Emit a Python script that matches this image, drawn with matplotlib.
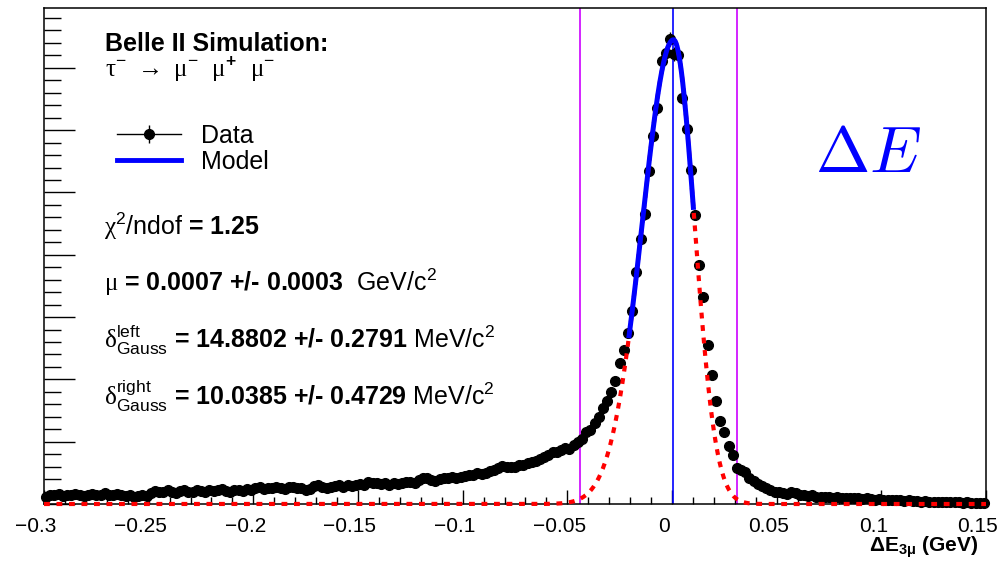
import matplotlib.pyplot as plt
import matplotlib.transforms as mtransforms
import numpy as np
from matplotlib.lines import Line2D
from matplotlib.legend_handler import HandlerTuple
from matplotlib.ticker import MultipleLocator

plt.rcParams['font.family'] = ['Liberation Sans', 'DejaVu Sans']
plt.rcParams['mathtext.fontset'] = 'custom'
plt.rcParams['mathtext.rm'] = 'Liberation Sans'
plt.rcParams['mathtext.it'] = 'Liberation Sans:italic'
plt.rcParams['mathtext.bf'] = 'Liberation Sans:bold'
plt.rcParams['mathtext.sf'] = 'Liberation Serif'

# histogram: 225 bins of 0.002 GeV from -0.3 to 0.15
x_lo, x_hi = -0.3, 0.15
bin_width = 0.002
counts = [
    # -0.299 .. -0.251
    12, 15, 14, 16, 13, 15, 14, 16, 15, 13, 14, 16, 15, 14, 17, 15, 14, 16, 15, 13, 14, 12, 13, 14, 13,
    # -0.249 .. -0.201
    18, 21, 20, 19, 22, 20, 18, 21, 22, 20, 19, 22, 21, 20, 23, 21, 22, 24, 21, 20, 22, 23, 21, 24, 23,
    # -0.199 .. -0.151
    25, 27, 24, 26, 25, 28, 26, 24, 27, 28, 26, 25, 22, 24, 29, 30, 28, 26, 27, 29, 30, 28, 31, 29, 30,
    # -0.149 .. -0.101
    32, 31, 35, 33, 34, 32, 33, 31, 34, 32, 33, 35, 36, 34, 38, 41, 42, 39, 37, 40, 42, 41, 43, 42, 44,
    # -0.099 .. -0.045
    45, 46, 47, 49, 48, 50, 53, 55, 58, 61, 60, 59, 60, 62, 63, 65, 67, 69, 73, 76, 79, 83, 84, 87,
    90, 88, 95, 100,
    # -0.043 .. 0.061
    105, 116, 119, 130, 140, 154, 165, 180, 197, 226, 247, 274, 310, 372, 426, 465, 535, 591, 635, 711,
    723, 746, 722, 720, 652, 602, 536, 464, 384, 333, 255, 207, 166, 134, 116, 93, 78, 57, 55, 51,
    42, 37, 32, 29, 25, 22, 20, 19, 18, 16, 19, 17, 15,
    # 0.063 .. 0.149
    14, 13, 14, 12, 12, 11, 12, 10, 11, 10, 10, 9, 10, 9, 8, 9, 8, 7, 8, 7, 6, 7, 6, 6, 5, 6, 5, 5,
    4, 5, 4, 4, 4, 3, 4, 3, 3, 3, 2, 3, 2, 2, 2, 2,
]

# fit result (bifurcated gaussian)
mu = 0.0007
sigma_left = 0.0148802
sigma_right = 0.0100385
peak = 745
model_lo, model_hi = -0.0205, 0.0102

xticks = [-0.3, -0.25, -0.2, -0.15, -0.1, -0.05, 0, 0.05, 0.1, 0.15]
xtick_labels = ['\u22120.3', '\u22120.25', '\u22120.2', '\u22120.15', '\u22120.1', '\u22120.05',
                '0', '0.05', '0.1', '0.15']


def model(x):
    s = np.where(x < mu, sigma_left, sigma_right)
    return peak * np.exp(-0.5 * ((x - mu) / s) ** 2)


counts = np.array(counts, dtype=float)
centers = x_lo + bin_width * (np.arange(len(counts)) + 0.5)

fig = plt.figure(figsize=(9.99, 5.61), dpi=100)
ax = fig.add_axes([44 / 999, 57 / 561, 942 / 999, 496 / 561])

ax.errorbar(centers, counts, xerr=bin_width / 2, yerr=np.sqrt(counts) * 0.4, fmt='o',
            color='black', ms=7, elinewidth=1, capsize=0, clip_on=False, zorder=3)

xx = np.linspace(x_lo, x_hi, 2000)
ax.plot(xx, model(xx), color='#ff0000', lw=3, dashes=(1.4, 1.6), clip_on=False, zorder=4)
xm = np.linspace(model_lo, model_hi, 400)
ax.plot(xm, model(xm), color='#0000ff', lw=3.6, zorder=5)

ax.axvline(mu, color='#0000ff', lw=1.2, zorder=2)
ax.axvline(mu - 3 * sigma_left, color='#cc00ff', lw=1.2, zorder=2)
ax.axvline(mu + 3 * sigma_right, color='#cc00ff', lw=1.2, zorder=2)

ax.set_xlim(x_lo, x_hi)
ax.set_ylim(0, 796)
ax.set_xticks(xticks)
ax.set_xticklabels(xtick_labels)
ax.xaxis.set_minor_locator(MultipleLocator(0.01))
ax.yaxis.set_major_locator(MultipleLocator(100))
ax.yaxis.set_minor_locator(MultipleLocator(20))
ax.tick_params(axis='x', which='major', direction='in', length=10, width=1, labelsize=15, pad=9,
               top=False)
ax.tick_params(axis='x', which='minor', direction='in', length=5, width=1, top=False)
ax.tick_params(axis='y', which='major', direction='in', length=22, width=1, labelleft=False,
               right=False)
ax.tick_params(axis='y', which='minor', direction='in', length=12, width=1, right=False)
for sp in ax.spines.values():
    sp.set_linewidth(1.1)

# ROOT puts its x labels a little left of the ticks
shift = mtransforms.ScaledTranslation(-8 / 100, 0, fig.dpi_scale_trans)
for lab in ax.get_xticklabels():
    lab.set_transform(lab.get_transform() + shift)

W, H = 999, 561
fig.text(105 / W, 1 - 51 / H, 'Belle II Simulation:', fontsize=18, fontweight='bold')
fig.text(105 / W, 1 - 77 / H,
         r'$\mathsf{\tau}^{\mathrm{-}}\ \rightarrow\ \mathsf{\mu}^{\mathrm{-}}\ \ '
         r'\mathsf{\mu}^{\mathbf{+}}\ \ \mathsf{\mu}^{\mathrm{-}}$', fontsize=18)

fig.text(104 / W, 1 - 235 / H, r'$\mathsf{\chi}^{\mathrm{2}}\mathrm{/ndof}$ = 1.25',
         fontsize=18, fontweight='bold')
fig.text(104 / W, 1 - 291 / H, r'$\mathsf{\mu}$ = 0.0007 +/- 0.0003  $\mathrm{GeV/c^{2}}$',
         fontsize=18, fontweight='bold')
fig.text(104 / W, 1 - 348 / H,
         r'$\mathsf{\delta}^{\mathrm{left}}_{\mathrm{Gauss}}$ = 14.8802 +/- 0.2791 $\mathrm{MeV/c^{2}}$',
         fontsize=18, fontweight='bold')
fig.text(104 / W, 1 - 405 / H,
         r'$\mathsf{\delta}^{\mathrm{right}}_{\mathrm{Gauss}}$ = 10.0385 +/- 0.4729 $\mathrm{MeV/c^{2}}$',
         fontsize=18, fontweight='bold')

fig.text(815 / W, 1 - 172 / H, r'$\Delta E$', fontsize=47, color='#0000ff', math_fontfamily='cm')

fig.text(978 / W, 1 - 552 / H, r'$\mathbf{\Delta E_{3\mu}}$ (GeV)', fontsize=15,
         fontweight='bold', ha='right')

data_handle = (Line2D([], [], color='black', marker='o', ms=7, lw=1),
               Line2D([], [], color='black', marker='|', ms=13, mew=1, ls='none'))
model_handle = Line2D([], [], color='#0000ff', lw=3.5)
ax.legend([data_handle, model_handle], ['Data', 'Model'],
          handler_map={tuple: HandlerTuple(ndivide=1)},
          loc='upper left', bbox_to_anchor=(117 / W, 1 - 124 / H), bbox_transform=fig.transFigure,
          frameon=False, fontsize=18, handlelength=2.55, handletextpad=0.8, labelspacing=0.08,
          borderpad=0, borderaxespad=0)

fig.savefig('out.png', dpi=100)
